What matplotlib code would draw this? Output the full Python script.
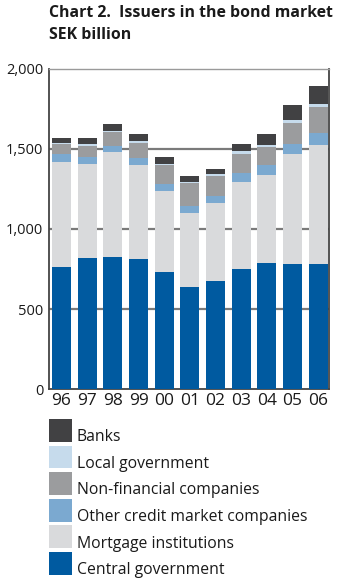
import matplotlib
matplotlib.use("Agg")
import matplotlib.pyplot as plt
from matplotlib.patches import Rectangle
import numpy as np

plt.rcParams['font.family'] = ['Open Sans', 'DejaVu Sans']

years = ["96", "97", "98", "99", "00", "01", "02", "03", "04", "05", "06"]
central_government = [764, 821, 827, 815, 731, 637, 675, 750, 787, 781, 781]
mortgage_institutions = [655, 585, 654, 585, 506, 463, 487, 544, 550, 688, 744]
other_credit = [50, 42, 38, 44, 44, 44, 44, 56, 63, 62, 75]
non_financial = [62, 71, 87, 93, 119, 143, 125, 119, 112, 131, 162]
local_government = [6, 12, 6, 13, 6, 7, 13, 18, 13, 19, 19]
banks = [32, 38, 44, 44, 44, 37, 31, 44, 69, 94, 113]

series = [
    ("Central government", central_government, "#005aa0"),
    ("Mortgage institutions", mortgage_institutions, "#d9dadc"),
    ("Other credit market companies", other_credit, "#7ba9d0"),
    ("Non-financial companies", non_financial, "#9b9c9e"),
    ("Local government", local_government, "#c6dbec"),
    ("Banks", banks, "#414143"),
]
yticks = [0, 500, 1000, 1500, 2000]
ytick_labels = ["0", "500", "1,000", "1,500", "2,000"]

W, H = 343, 579
fig = plt.figure(figsize=(W / 100, H / 100), dpi=100)
ax = fig.add_axes([0.142, 0.328, 0.817, 0.553])

x = np.arange(len(years))
bottom = np.zeros(len(years))
for name, vals, color in series:
    vals = np.array(vals, dtype=float)
    ax.bar(x, vals, bottom=bottom, width=0.74, color=color, label=name, zorder=3)
    bottom += vals

ax.set_ylim(0, 2000)
ax.set_xlim(-0.5, 10.42)
ax.set_yticks(yticks)
ax.set_yticklabels(ytick_labels)
ax.set_xticks(x)
ax.set_xticklabels(years)
ax.tick_params(axis='both', length=0, colors='#1a1a1a')
ax.tick_params(axis='y', labelsize=10.5, pad=4)
ax.tick_params(axis='x', labelsize=12.5, pad=3)
for y in yticks[1:4]:
    ax.axhline(y, color='#7a7a7a', lw=1.6, zorder=1)

for side in ['left', 'bottom', 'right']:
    ax.spines[side].set_color('#444444')
    ax.spines[side].set_linewidth(1.3)
ax.spines['top'].set_color('#9a9a9a')
ax.spines['top'].set_linewidth(1.0)

fig.text(0.143, 0.991, "Chart 2.  Issuers in the bond market\nSEK billion",
         ha='left', va='top', fontsize=11.4, fontweight='bold', color='#1a1a1a',
         linespacing=1.45)

# Legend: swatch column with labels sitting on the swatch baseline
sw_left, sw_size, first_top, pitch, text_left = 49, 22.7, 419, 26.6, 76.7
for i, (name, _, color) in enumerate(series[::-1]):
    top = first_top + i * pitch
    fig.add_artist(Rectangle((sw_left / W, 1 - (top + sw_size) / H),
                             sw_size / W, sw_size / H,
                             transform=fig.transFigure, facecolor=color,
                             edgecolor='none'))
    fig.text(text_left / W, 1 - (top + sw_size - 0.5) / H, name,
             ha='left', va='baseline', fontsize=11.3, color='#1a1a1a')

fig.savefig("out.png", dpi=100)
